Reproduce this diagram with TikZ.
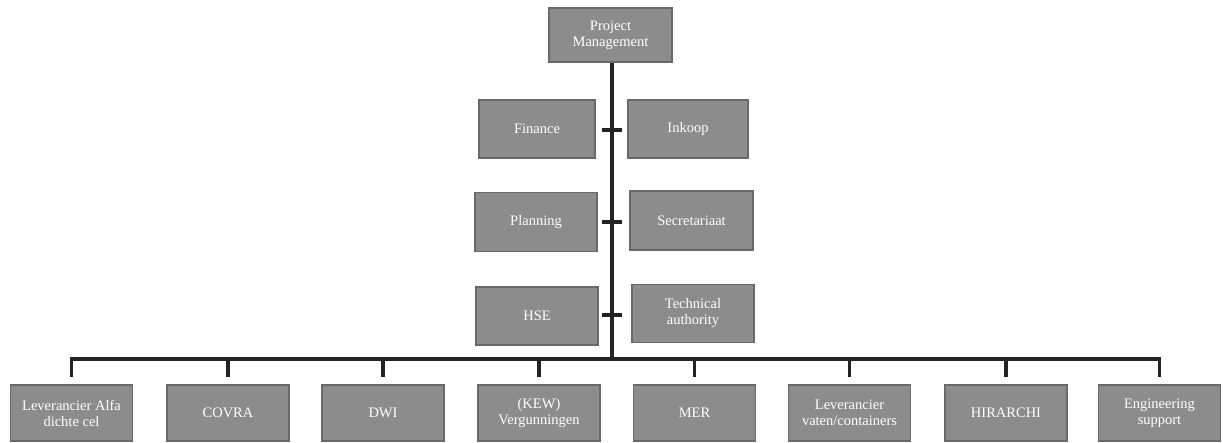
\documentclass[tikz,border=0pt]{standalone}
\usepackage{fontspec}
\setmainfont{Liberation Serif}
\definecolor{boxfill}{RGB}{140,140,140}
\definecolor{boxedge}{RGB}{105,105,105}
\definecolor{linecol}{RGB}{35,35,35}
\begin{document}
\begin{tikzpicture}[x=1pt,y=-1pt,
  orgbox/.style={draw=boxedge,line width=1.2pt,fill=boxfill,text=white,align=center,
    font=\fontsize{14.5}{16}\selectfont,minimum height=56pt,minimum width=122pt,inner sep=1pt},
  trunk/.style={draw=linecol,line width=4.2pt},
  bar/.style={draw=linecol,line width=3.4pt},
  stub/.style={draw=linecol,line width=3.8pt}]
\useasboundingbox (0,0) rectangle (1223,443);
% top
\node[orgbox,minimum width=123pt,minimum height=54pt] (pm) at (610.5,35) {Project\\Management};
% assistants
\node[orgbox,minimum width=116pt,minimum height=58pt] (fin) at (537,129) {Finance};
\node[orgbox,minimum width=120pt,minimum height=58pt] (ink) at (688,129) {Inkoop};
\node[orgbox,minimum height=59pt] (pla) at (536,222) {Planning};
\node[orgbox,minimum width=123pt,minimum height=59pt] (sec) at (691.5,220.5) {Secretariaat};
\node[orgbox,minimum height=58pt] (hse) at (537,316) {HSE};
\node[orgbox,minimum height=58pt] (tec) at (693,313.5) {Technical\\authority};
% bottom row
\node[orgbox] (b1) at (71.5,413) {Leverancier Alfa\\dichte cel};
\node[orgbox] (b2) at (228,413) {COVRA};
\node[orgbox] (b3) at (383,413) {DWI};
\node[orgbox] (b4) at (539,413) {(KEW)\\Vergunningen};
\node[orgbox] (b5) at (694.5,413) {MER};
\node[orgbox] (b6) at (849.5,413) {Leverancier\\vaten/containers};
\node[orgbox] (b7) at (1006,413) {HIRARCHI};
\node[orgbox] (b8) at (1159.5,413) {Engineering\\support};
% connectors
\coordinate (junc) at (612,359);
\draw[trunk] (pm.south -| junc) -- (junc);
\coordinate (t1) at (612,130);
\coordinate (t2) at (612,222);
\coordinate (t3) at (612,315);
\foreach \t in {t1,t2,t3}{
  \draw[bar] ([xshift=-10pt]\t) -- ([xshift=10pt]\t);
}
\coordinate (hl) at (71.5,359);
\coordinate (hr) at (1159.5,359);
\draw[bar] ([xshift=-1.9pt]hl) -- ([xshift=1.9pt]hr);
\foreach \b in {b1,b2,b3,b4,b5,b6,b7,b8}{
  \draw[stub] (\b.north |- hl) -- ([yshift=7pt]\b.north);
}
\end{tikzpicture}
\end{document}
